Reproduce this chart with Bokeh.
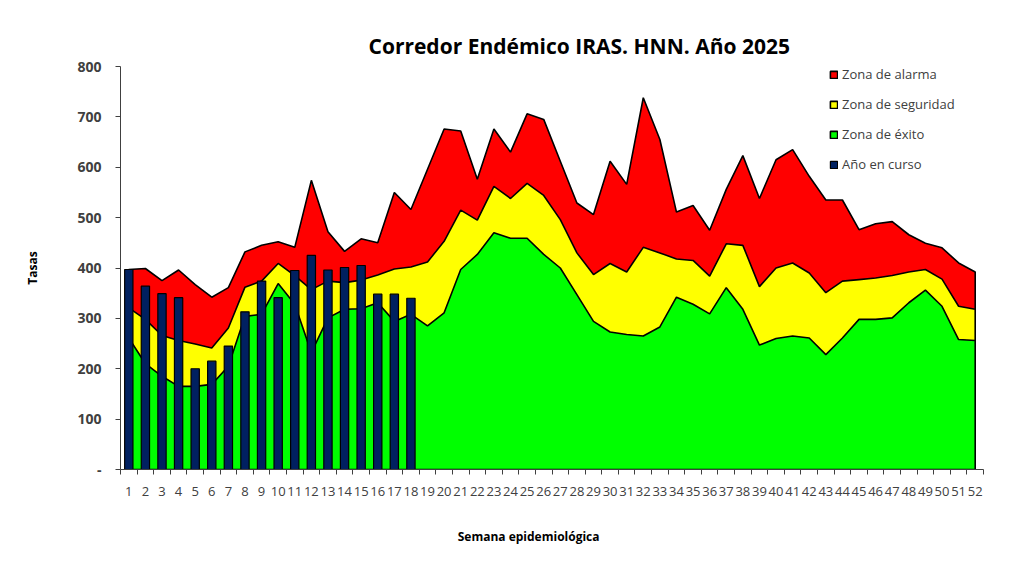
from bokeh.plotting import figure
from bokeh.models import FixedTicker, Legend, LegendItem, Range1d, ColumnDataSource
from bokeh.embed import file_html
from bokeh.resources import INLINE

# ---- data ----
semanas = list(range(1, 53))
tick_labels = [str(s) for s in semanas]

zona_alarma = [397, 399, 375, 396, 367, 342, 361, 432, 445, 452, 441, 574, 472, 433, 458, 450,
               550, 516, 596, 676, 672, 576, 676, 630, 706, 695, 612, 529, 506, 612, 566, 738,
               655, 511, 524, 475, 556, 623, 538, 615, 635, 582, 535, 535, 476, 488, 492, 466,
               449, 440, 410, 392]
zona_seguridad = [321, 298, 266, 256, 249, 241, 281, 362, 374, 409, 385, 357, 374, 371, 376, 386,
                  398, 402, 412, 453, 515, 495, 562, 538, 568, 544, 496, 430, 387, 409, 392, 441,
                  430, 418, 415, 384, 448, 445, 363, 400, 410, 390, 351, 374, 377, 380, 385, 392,
                  397, 378, 324, 318]
zona_exito = [261, 210, 185, 165, 165, 169, 205, 304, 308, 369, 328, 232, 301, 318, 319, 331,
              294, 308, 285, 311, 397, 427, 470, 459, 459, 427, 400, 347, 294, 273, 268, 265,
              283, 342, 328, 309, 361, 318, 247, 260, 265, 261, 228, 261, 298, 298, 301, 331,
              356, 324, 258, 256]
semanas_curso = list(range(1, 19))
anio_en_curso = [397, 364, 349, 341, 200, 215, 245, 313, 374, 341, 395, 425, 396, 401, 405, 348,
                 348, 340]

y_ticks = [0, 100, 200, 300, 400, 500, 600, 700, 800]

FONT = "Open Sans"
TXT = "#404040"

p = figure(width=1005, height=547, output_backend="svg", toolbar_location=None,
           x_range=Range1d(0.5, 52.5), y_range=Range1d(0, 800),
           min_border_left=120, min_border_right=22, min_border_top=66, min_border_bottom=78)
p.outline_line_color = None
p.xgrid.grid_line_color = None
p.ygrid.grid_line_color = None
p.background_fill_color = "white"
p.border_fill_color = "white"

p.title.text = "Corredor Endémico IRAS. HNN. Año 2025"
p.title.align = "left"
p.title.offset = 248
p.title.standoff = 14
p.title.text_font = FONT
p.title.text_font_size = "21px"
p.title.text_font_style = "bold"
p.title.text_color = "black"

def zone_patch(top, color):
    xs = semanas + [semanas[-1], semanas[0]]
    ys = top + [0, 0]
    return p.patch(xs, ys, fill_color=color, line_color="black", line_width=1.6)

r_alarma = zone_patch(zona_alarma, "#FF0000")
r_seg = zone_patch(zona_seguridad, "#FFFF00")
r_exito = zone_patch(zona_exito, "#00FF00")

src = ColumnDataSource(dict(x=semanas_curso, top=anio_en_curso))
r_bar = p.vbar(x="x", top="top", width=0.5, source=src, fill_color="#002060",
               line_color="black", line_width=1.2)

# axes
xa = p.xaxis[0]
xa.ticker = FixedTicker(ticks=semanas, minor_ticks=[s - 0.5 for s in semanas] + [52.5])
xa.major_label_overrides = {s: l for s, l in zip(semanas, tick_labels)}
xa.major_tick_line_color = None
xa.major_tick_out = 0
xa.major_tick_in = 0
xa.minor_tick_out = 5
xa.minor_tick_in = 0
xa.minor_tick_line_color = "#404040"
xa.axis_line_color = "#404040"
xa.major_label_standoff = 12
xa.major_label_text_font = FONT
xa.major_label_text_font_size = "13px"
xa.major_label_text_color = TXT
xa.axis_label = "Semana epidemiológica" + "\u00a0" * 15
xa.axis_label_standoff = 29
xa.axis_label_text_font = FONT
xa.axis_label_text_font_size = "12px"
xa.axis_label_text_font_style = "bold"
xa.axis_label_text_color = "black"

ya = p.yaxis[0]
ya.ticker = FixedTicker(ticks=y_ticks)
ya.major_label_overrides = {0: "-"}
ya.major_tick_out = 5
ya.major_tick_in = 0
ya.minor_tick_line_color = None
ya.axis_line_color = "#404040"
ya.major_tick_line_color = "#404040"
ya.major_label_standoff = 14
ya.major_label_text_font = FONT
ya.major_label_text_font_size = "14px"
ya.major_label_text_font_style = "bold"
ya.major_label_text_color = TXT
ya.axis_label = "Tasas"
ya.axis_label_standoff = 33
ya.axis_label_text_font = FONT
ya.axis_label_text_font_size = "12px"
ya.axis_label_text_font_style = "bold"
ya.axis_label_text_color = "black"

legend = Legend(items=[
    LegendItem(label="Zona de alarma", renderers=[r_alarma]),
    LegendItem(label="Zona de seguridad", renderers=[r_seg]),
    LegendItem(label="Zona de éxito", renderers=[r_exito]),
    LegendItem(label="Año en curso", renderers=[r_bar]),
], location=(709, 296))
legend.padding = 0
legend.margin = 0
legend.spacing = 12
legend.glyph_width = 9
legend.glyph_height = 9
legend.label_height = 18
legend.label_standoff = 4
legend.label_text_font = FONT
legend.label_text_font_size = "13px"
legend.label_text_color = TXT
legend.border_line_color = None
legend.background_fill_alpha = 0
p.add_layout(legend)

open("out.html", "w").write(file_html(p, INLINE))
